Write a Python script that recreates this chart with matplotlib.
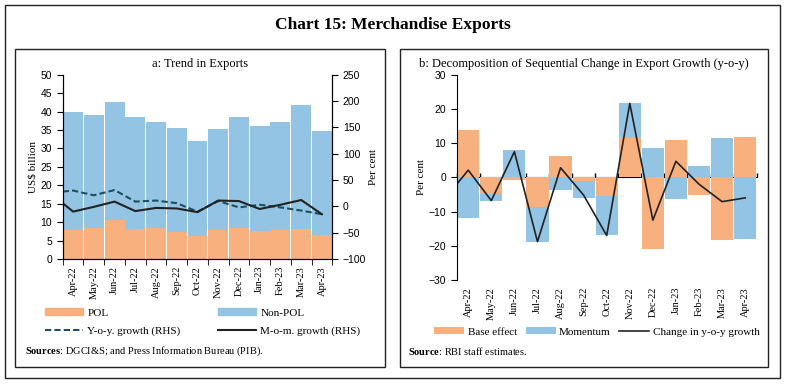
import numpy as np
import matplotlib.pyplot as plt
from matplotlib.patches import Rectangle
from matplotlib.lines import Line2D
from matplotlib.patches import Patch

months = ['Apr-22', 'May-22', 'Jun-22', 'Jul-22', 'Aug-22', 'Sep-22', 'Oct-22',
          'Nov-22', 'Dec-22', 'Jan-23', 'Feb-23', 'Mar-23', 'Apr-23']

# panel a
total_exports = np.array([40.0, 39.2, 42.6, 38.4, 37.3, 35.6, 31.9, 35.2, 38.4, 36.1, 37.2, 41.9, 34.8])
pol = np.array([7.9, 8.5, 10.6, 8.1, 8.4, 7.3, 6.3, 8.0, 8.3, 7.6, 7.9, 8.1, 6.5])
non_pol = total_exports - pol
# first value = where the line starts at the left edge
yoy = np.array([28, 30, 21, 31, 9, 11, 6, -10, 10, -2, 3, -2, -8, -15])
mom = np.array([6, -10, -1, 9, -9, -3, -4, -11, 11, 10, -5, 3, 12, -15])

# panel b
base_effect = np.array([13.8, -4.8, -0.8, -8.7, 6.2, -1.2, -5.5, 11.5, -21.0, 10.9, -5.3, -18.2, 11.7])
momentum = np.array([-11.8, -2.0, 8.1, -10.1, -3.7, -4.7, -11.3, 10.2, 8.7, -6.2, 3.3, 11.4, -17.9])
yoy_change = np.array([-2.0, 2.1, -6.8, 7.5, -18.8, 2.8, -5.2, -17.0, 21.6, -12.5, 4.7, -2.0, -7.1, -6.0])

orange = '#F9B07F'
blue = '#93C4E4'
teal = '#1D4F5E'
serif = 'Liberation Serif'
sans = 'Liberation Sans'
plt.rcParams['mathtext.fontset'] = 'custom'
plt.rcParams['mathtext.bf'] = 'Liberation Serif:bold'
plt.rcParams['mathtext.rm'] = 'Liberation Serif'

fig = plt.figure(figsize=(7.85, 3.84), dpi=100)
W, H = 785, 384

def box(x0, y0, x1, y1, lw=1.0):
    fig.patches.append(Rectangle((x0 / W, 1 - y1 / H), (x1 - x0) / W, (y1 - y0) / H,
                                 transform=fig.transFigure, fill=False, lw=lw, ec='#222222'))

box(5, 5, 780, 378)
box(15, 49, 385, 367)
box(400, 49, 768, 367)

fig.text(393 / W, 1 - 25 / H, 'Chart 15: Merchandise Exports', ha='center', va='center',
         fontsize=12.5, family=serif, fontweight='bold')
fig.text(200 / W, 1 - 64 / H, 'a: Trend in Exports', ha='center', va='center', fontsize=9,
         family=serif)
fig.text(584 / W, 1 - 64 / H, 'b: Decomposition of Sequential Change in Export Growth (y-o-y)',
         ha='center', va='center', fontsize=9, family=serif)

x = np.arange(len(months))
xl = np.r_[-0.5, x]

# ---- panel a
ax1 = fig.add_axes([62.7 / W, 1 - 259 / H, (332.3 - 62.7) / W, (259 - 74.7) / H])
ax1.bar(x, pol, width=0.96, color=orange, label='POL')
ax1.bar(x, non_pol, bottom=pol, width=0.96, color=blue, label='Non-POL')
ax1.set_xlim(-0.5, 12.5)
ax1.set_ylim(0, 50)
ax1.set_yticks(range(0, 51, 5))
ax1.set_xticks(x)
ax1.set_xticklabels(months, rotation=90, family=serif, fontsize=7.5)
ax1.set_xticks(np.arange(-0.5, 13, 1), minor=True)
ax1.tick_params(axis='x', which='major', length=0, pad=5)
ax1.tick_params(axis='x', which='minor', length=4)
ax1.tick_params(axis='y', labelsize=7.5, length=4)
for t in ax1.get_yticklabels():
    t.set_family(sans)
ax1.set_ylabel('US$ billion', family=serif, fontsize=8, labelpad=2)
ax1.spines['top'].set_visible(False)

ax2 = ax1.twinx()
ax2.plot(xl, yoy, color=teal, lw=1.5, ls=(0, (3, 1.5)), label='Y-o-y. growth (RHS)')
ax2.plot(xl, mom, color='#222222', lw=1.5, label='M-o-m. growth (RHS)')
ax2.set_ylim(-100, 250)
ax2.set_yticks(range(-100, 251, 50))
ax2.tick_params(axis='y', labelsize=7.5, length=4)
for t in ax2.get_yticklabels():
    t.set_family(sans)
ax2.set_ylabel('Per cent', family=serif, fontsize=8, labelpad=2)
ax2.spines['top'].set_visible(False)

leg_kw = dict(loc='center left', frameon=False, prop={'family': serif, 'size': 8},
              handlelength=3.4, handleheight=0.6, labelspacing=0.75, handletextpad=0.4,
              borderaxespad=0, borderpad=0)
fig.legend([Patch(color=orange), Line2D([], [], color=teal, lw=1.5, ls=(0, (3, 1.5)))],
           ['POL', 'Y-o-y. growth (RHS)'], bbox_to_anchor=(45 / W, 1 - 322 / H), **leg_kw)
fig.legend([Patch(color=blue), Line2D([], [], color='#222222', lw=1.5)],
           ['Non-POL', 'M-o-m. growth (RHS)'], bbox_to_anchor=(218 / W, 1 - 322 / H), **leg_kw)
fig.text(25 / W, 1 - 351 / H, r'$\bf{Sources}$: DGCI&S; and Press Information Bureau (PIB).',
         fontsize=7.5, family=serif, va='center')

# ---- panel b
ax3 = fig.add_axes([456.7 / W, 1 - 280 / H, 300 / W, (280 - 74.7) / H])
bpos = np.where(base_effect > 0, base_effect, 0)
bneg = np.where(base_effect < 0, base_effect, 0)
m_bottom = np.where(momentum >= 0, bpos, bneg)
ax3.bar(x, base_effect, width=0.96, color=orange, label='Base effect')
ax3.bar(x, momentum, bottom=m_bottom, width=0.96, color=blue, label='Momentum')
ax3.plot(xl, yoy_change, color='#222222', lw=1.2, label='Change in y-o-y growth')
ax3.set_xlim(-0.5, 12.5)
ax3.set_ylim(-30, 30)
ax3.set_yticks(range(-30, 31, 10))
ax3.tick_params(axis='y', labelsize=7.5, length=4)
for t in ax3.get_yticklabels():
    t.set_family(sans)
ax3.set_ylabel('Per cent', family=serif, fontsize=8, labelpad=2)
ax3.set_xticks(x)
ax3.set_xticklabels(months, rotation=90, family=serif, fontsize=7.5)
ax3.tick_params(axis='x', length=0, pad=5)
for s in ['top', 'right', 'bottom']:
    ax3.spines[s].set_visible(False)
zero = ax3.secondary_xaxis(0.5)
zero.set_xticks(np.arange(-0.5, 13, 1))
zero.set_xticklabels([])
zero.tick_params(length=3, width=1)
zero.spines['bottom'].set_linewidth(1.2)

h_b, l_b = ax3.get_legend_handles_labels()
order = [1, 2, 0]
fig.legend([h_b[i] for i in order], [l_b[i] for i in order], ncol=3, loc='center',
           bbox_to_anchor=(597 / W, 1 - 332 / H), frameon=False,
           prop={'family': serif, 'size': 8}, handlelength=2.7, handleheight=0.6,
           columnspacing=0.8, handletextpad=0.3)
fig.text(408 / W, 1 - 351 / H, r'$\bf{Source}$: RBI staff estimates.',
         fontsize=7.5, family=serif, va='center')

fig.savefig('out.png', dpi=100)
